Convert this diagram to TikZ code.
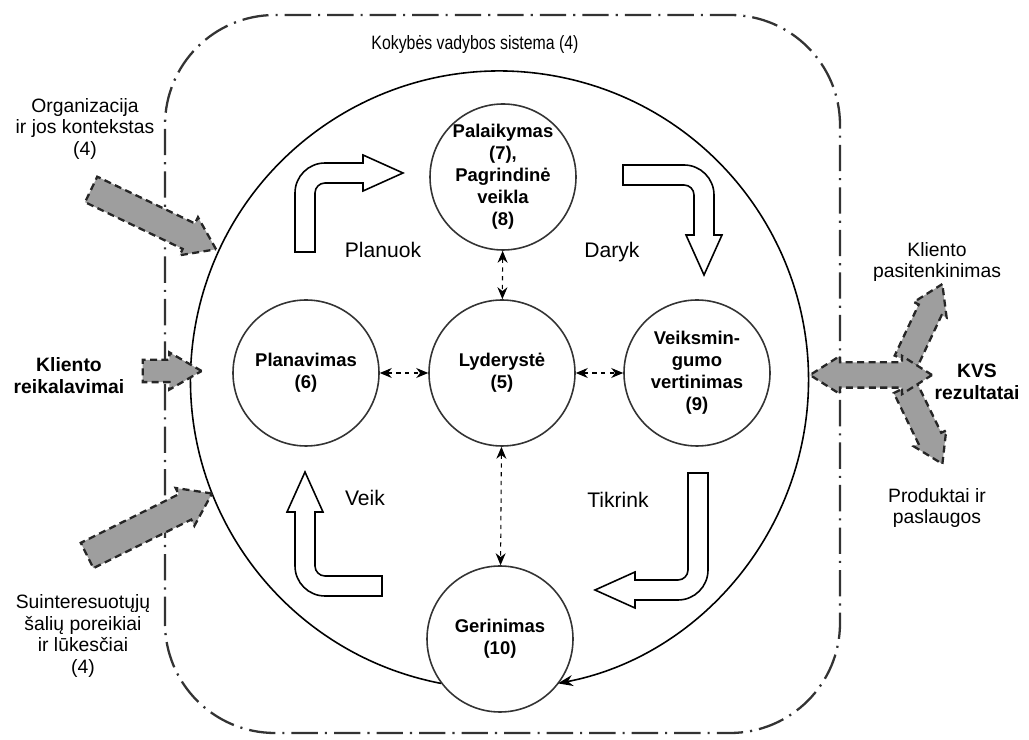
\documentclass[tikz,border=0pt]{standalone}
\usepackage{fontspec}
\setmainfont{Liberation Sans}
\usetikzlibrary{arrows.meta,shapes.arrows}

\tikzset{
  stage/.style={circle, draw=black!80, line width=0.9pt, minimum size=29.2mm, inner sep=0pt,
    align=center, font=\bfseries\fontsize{10.5}{12.5}\selectfont},
  txt/.style={align=center, inner sep=0pt, font=\fontsize{11}{12.5}\selectfont},
  link/.style={dash pattern=on 2.5pt off 2.5pt, line width=0.6pt,
    {Stealth[length=2.4mm,width=2mm]}-{Stealth[length=2.4mm,width=2mm]}},
  fatarrow/.style={single arrow, draw=black!85, fill=black!38, line width=1.3pt,
    dash pattern=on 4pt off 2.5pt, inner sep=0pt, text depth=0pt},
  fatboth/.style={double arrow, draw=black!85, fill=black!38, line width=1.3pt,
    dash pattern=on 4pt off 2.5pt, inner sep=0pt, text depth=0pt}
}

% white bent arrow: corner, rotation, tail leg, head leg
\newcommand{\bentarrow}[4]{%
  \begin{scope}[shift={#1}, rotate=#2]
    \draw[line width=0.9pt, fill=white] (0,-#3) -- (0,-30)
      arc[start angle=180, end angle=90, radius=30] -- ({#4-40},0) -- ({#4-40},8)
      -- (#4,-10) -- ({#4-40},-28) -- ({#4-40},-20) -- (30,-20)
      arc[start angle=90, end angle=180, radius=10] -- (20,-#3) -- cycle;
  \end{scope}}

\begin{document}
\begin{tikzpicture}[x=0.2mm, y=0.2mm]
  \useasboundingbox (0,0) rectangle (1029,740);

  % system frame
  \draw[black!80, line width=1.3pt, rounded corners=22mm,
    dash pattern=on 15pt off 4pt on 1.2pt off 4pt] (165,7) rectangle (840,725);
  \node[txt] (kvs) at (475,695) {\scalebox{0.82}[1]{Kokybės vadybos sistema (4)}};

  % stages
  \node[stage] (pal) at (503,563) {Palaikymas\\(7),\\Pagrindinė\\veikla\\(8)};
  \node[stage] (plan) at (306,367) {Planavimas\\(6)};
  \node[stage] (lyd) at (502,367) {Lyderystė\\(5)};
  \node[stage] (veiks) at (697,367) {Veiksmin-\\gumo\\vertinimas\\(9)};
  \node[stage] (ger) at (500,101) {Gerinimas\\(10)};

  % cycle
  \draw[line width=0.9pt, -{Stealth[length=3mm,width=2.2mm]}] (ger.217)
    arc[start angle=259.1, end angle=-79.1, radius=309];

  \draw[link] (plan) -- (lyd);
  \draw[link] (lyd) -- (veiks);
  \draw[link] (pal) -- (lyd);
  \draw[link] (lyd) -- (ger);

  % PDCA
  \bentarrow{(295,577)}{0}{89}{108}
  \bentarrow{(714,575)}{-90}{91}{110}
  \bentarrow{(708,140)}{-180}{127}{113}
  \bentarrow{(295,144)}{90}{87}{124}
  \node[txt, font=\fontsize{12}{14}\selectfont] (planuok) at (383,490) {Planuok};
  \node[txt, font=\fontsize{12}{14}\selectfont] (daryk) at (612,488) {Daryk};
  \node[txt, font=\fontsize{12}{14}\selectfont] (veik) at (365,242) {Veik};
  \node[txt, font=\fontsize{12}{14}\selectfont] (tikrink) at (618,240) {Tikrink};

  % inputs
  \node[txt] (org) at (85,611) {Organizacija\\ir jos kontekstas\\(4)};
  \node[txt, font=\bfseries\fontsize{11}{12.5}\selectfont] (klreq) at (69,364) {Kliento\\reikalavimai};
  \node[txt] (suint) at (83,104) {Suinteresuotųjų\\šalių poreikiai\\ir lūkesčiai\\(4)};
  \node[fatarrow, text height=5.2mm, minimum height=27.7mm, single arrow head extend=1.4mm,
    single arrow tip angle=70, rotate=-25.6] (orgin) at (144.5,525) {};
  \node[fatarrow, text height=4mm, minimum height=11.8mm, single arrow head extend=1.5mm,
    single arrow tip angle=60] (reqin) at (162.5,369) {};
  \node[fatarrow, text height=5.2mm, minimum height=27.9mm, single arrow head extend=1.4mm,
    single arrow tip angle=70, rotate=26.4] (suintin) at (140.5,211) {};

  % outputs
  \node[txt] (klsat) at (937,478) {Kliento\\pasitenkinimas};
  \node[txt, font=\bfseries\fontsize{11}{12.5}\selectfont] (kvsres) at (977,358) {KVS\\rezultatai};
  \node[txt] (prod) at (937,232) {Produktai ir\\paslaugos};
  \node[fatarrow, text height=4.6mm, minimum height=17mm, single arrow head extend=1.1mm,
    single arrow tip angle=65, rotate=64.8] (satout) at (920,408.5) {};
  \node[fatarrow, text height=4.6mm, minimum height=17mm, single arrow head extend=1.1mm,
    single arrow tip angle=65, rotate=-64] (prodout) at (919.4,323.2) {};
  \node[fatboth, text height=4.6mm, minimum height=24.4mm, double arrow head extend=1.3mm,
    double arrow tip angle=65] (resout) at (871,365) {};
\end{tikzpicture}
\end{document}
